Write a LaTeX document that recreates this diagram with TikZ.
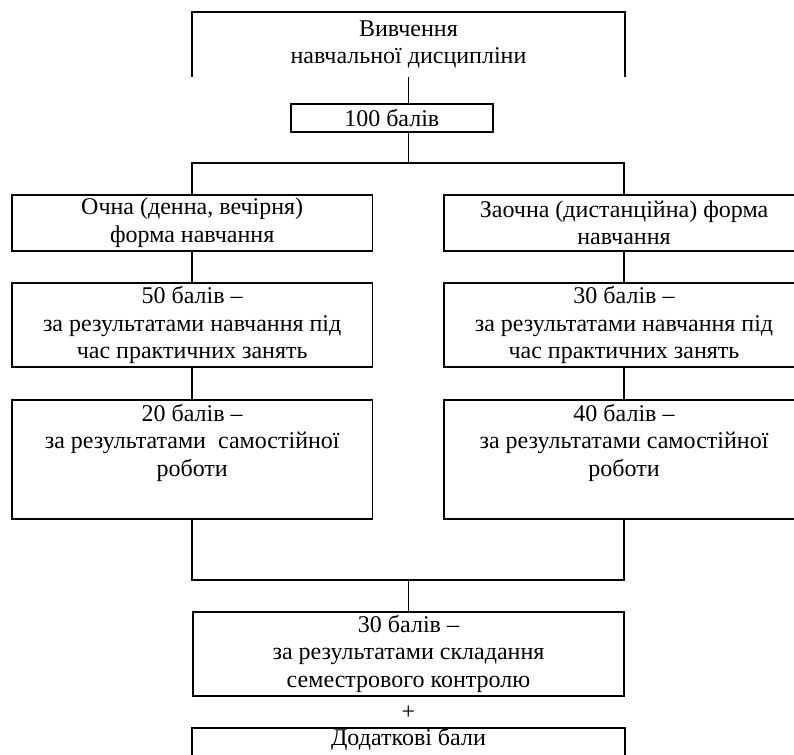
\documentclass[tikz,border=0pt]{standalone}
\usepackage{fontspec}
\setmainfont{Liberation Serif}
\begin{document}
\begin{tikzpicture}[x=0.75pt,y=-0.75pt,line width=1.4pt,
        txt/.style={align=center,inner sep=0pt,
            font=\fontsize{18}{20.6}\selectfont},
        box/.style={txt,draw,minimum width=270.5pt},
        widebox/.style={txt,minimum width=323.7pt}]
    \useasboundingbox (0,0) rectangle (794,755);
    \node[widebox,minimum height=47.5pt] (study) at (408.5,44.3)
        {Вивчення\\навчальної дисципліни};
    \draw (study.south west) -- (study.north west)
        -- (study.north east) -- (study.south east);
    \node[txt,draw,minimum width=151.3pt,minimum height=21.2pt] (total)
        at (391.8,118.2) {100 балів};
    \coordinate (fork) at (408.5,162.7);
    \node[box,minimum height=41.8pt] (fulltime) at (192.2,222.9)
        {Очна (денна, вечірня)\\форма навчання};
    \node[box,minimum height=41.8pt] (parttime) at (624,222.9)
        {Заочна (дистанційна) форма\\навчання};
    \node[box,minimum height=62.5pt] (fullpract) at (192.2,325)
        {50 балів –\\за результатами навчання під\\час практичних занять};
    \node[box,minimum height=62.5pt] (partpract) at (624,325)
        {30 балів –\\за результатами навчання під\\час практичних занять};
    \node[box,anchor=north,inner ysep=3pt,text depth=29pt] (fullself)
        at (192.2,399) {20 балів –\\за результатами~ самостійної\\роботи};
    \node[box,anchor=north,inner ysep=3pt,text depth=29pt] (partself)
        at (624,399) {40 балів –\\за результатами самостійної\\роботи};
    \coordinate (join) at (408.5,580);
    \node[widebox,draw,minimum height=63.2pt] (exam) at (408.5,653.9)
        {30 балів –\\за результатами складання\\семестрового контролю};
    \node[txt] (plus) at (408.5,713) {+};
    \node[font=\fontsize{18}{20.6}\selectfont,inner sep=0pt,anchor=north,
        minimum width=323.7pt,text height=12.5pt,text depth=30pt] (bonus)
        at (408.5,728.3) {Додаткові бали};
    \draw (bonus.south west) -- (bonus.north west)
        -- (bonus.north east) -- (bonus.south east);
    % connectors
    \draw (study.south) -- (study.south |- total.north);
    \draw (study.south |- total.south) -- (fork);
    \draw (fulltime.north) |- (fork) -| (parttime.north);
    \draw (fulltime) -- (fullpract);
    \draw (fullpract) -- (fullself);
    \draw (parttime) -- (partpract);
    \draw (partpract) -- (partself);
    \draw (fullself.south) |- (join) -| (partself.south);
    \draw (join) -- (exam.north);
\end{tikzpicture}
\end{document}
